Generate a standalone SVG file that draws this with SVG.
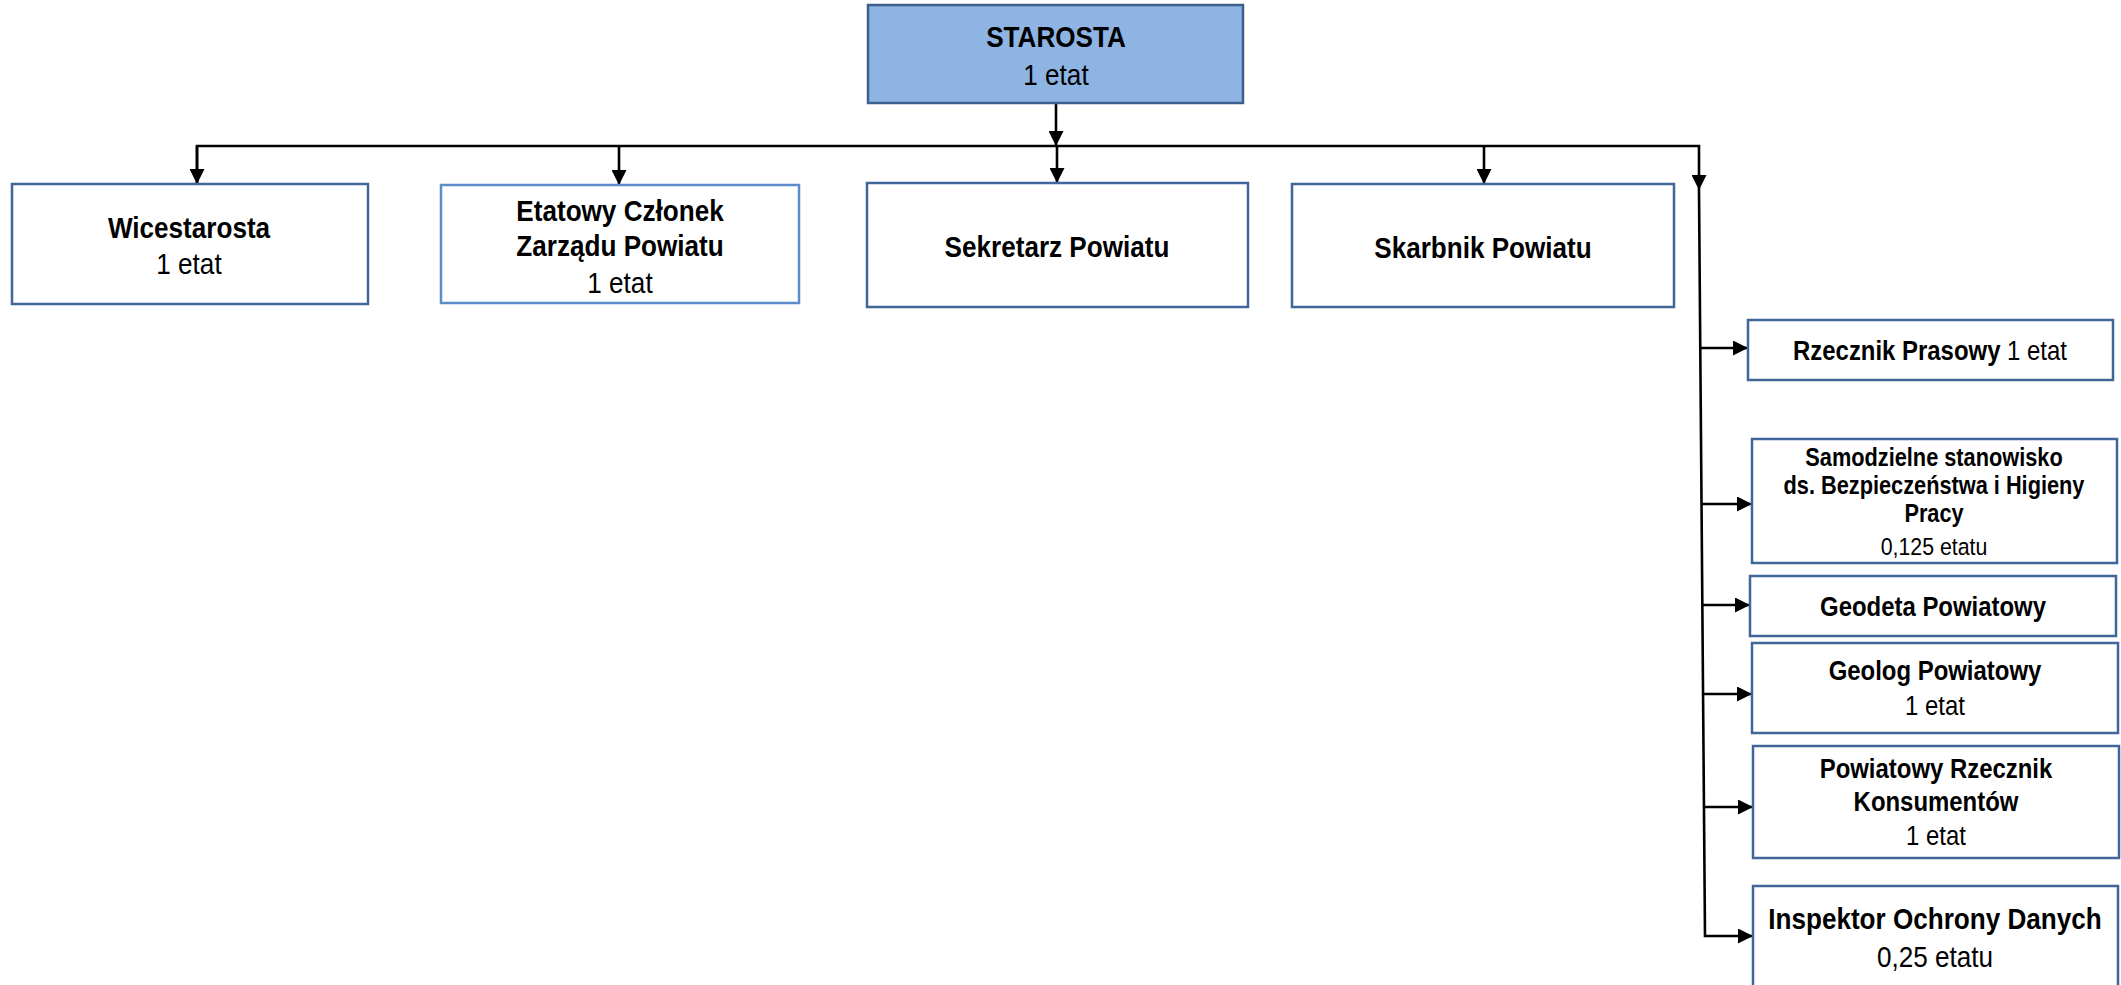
<svg xmlns="http://www.w3.org/2000/svg" width="2121" height="985" viewBox="0 0 2121 985">
  <style>
    .box { fill: #ffffff; stroke: #41669A; stroke-width: 2.5; }
    .boxl { fill: #ffffff; stroke: #5B8CCB; stroke-width: 2.5; }
    .top { fill: #8DB4E2; stroke: #3C5F8C; stroke-width: 2.5; }
    text { font-family: "Liberation Sans", Arial, sans-serif; fill: #000000; text-anchor: middle; }
    .b { font-weight: bold; }
    .conn { fill: none; stroke: #000000; stroke-width: 2.6; }
  </style>
  <defs>
    <marker id="arr" markerUnits="userSpaceOnUse" markerWidth="16" markerHeight="15" refX="15" refY="7.5" orient="auto">
      <path d="M0,0 L15,7.5 L0,15 Z" fill="#000000"/>
    </marker>
  </defs>
  <rect width="2121" height="985" fill="#ffffff"/>

  <g id="connectors">
    <path class="conn" d="M1056,103 L1056,146" marker-end="url(#arr)"/>
    <path class="conn" d="M197,184 L197,146 L1699,146 L1699,190" marker-end="url(#arr)"/>
    <path class="conn" d="M1699,190 L1705,936 L1753,936" marker-end="url(#arr)"/>
    <path class="conn" d="M197,146 L197,184" marker-end="url(#arr)"/>
    <path class="conn" d="M619,146 L619,185" marker-end="url(#arr)"/>
    <path class="conn" d="M1057,146 L1057,183" marker-end="url(#arr)"/>
    <path class="conn" d="M1484,146 L1484,184" marker-end="url(#arr)"/>
    <path class="conn" d="M1701,348 L1748,348" marker-end="url(#arr)"/>
    <path class="conn" d="M1702,504 L1752,504" marker-end="url(#arr)"/>
    <path class="conn" d="M1703,605 L1750,605" marker-end="url(#arr)"/>
    <path class="conn" d="M1703,694 L1752,694" marker-end="url(#arr)"/>
    <path class="conn" d="M1704,807 L1753,807" marker-end="url(#arr)"/>
  </g>

  <g id="starosta">
    <rect class="top" x="868" y="5" width="375" height="98"/>
    <g transform="translate(1056,0) scale(0.87,1)">
      <text class="b" x="0" y="47" font-size="30">STAROSTA</text>
      <text x="0" y="85" font-size="30">1 etat</text>
    </g>
  </g>

  <g id="wicestarosta">
    <rect class="box" x="12" y="184" width="356" height="120"/>
    <g transform="translate(189,0) scale(0.87,1)">
      <text class="b" x="0" y="238" font-size="30">Wicestarosta</text>
      <text x="0" y="274" font-size="30">1 etat</text>
    </g>
  </g>

  <g id="etatowy">
    <rect class="boxl" x="441" y="185" width="358" height="118"/>
    <g transform="translate(620,0) scale(0.87,1)">
      <text class="b" x="0" y="221" font-size="30">Etatowy Członek</text>
      <text class="b" x="0" y="256" font-size="30">Zarządu Powiatu</text>
      <text x="0" y="293" font-size="30">1 etat</text>
    </g>
  </g>

  <g id="sekretarz">
    <rect class="box" x="867" y="183" width="381" height="124"/>
    <g transform="translate(1057,0) scale(0.87,1)">
      <text class="b" x="0" y="257" font-size="30">Sekretarz Powiatu</text>
    </g>
  </g>

  <g id="skarbnik">
    <rect class="box" x="1292" y="184" width="382" height="123"/>
    <g transform="translate(1483,0) scale(0.87,1)">
      <text class="b" x="0" y="258" font-size="30">Skarbnik Powiatu</text>
    </g>
  </g>

  <g id="rzecznik-prasowy">
    <rect class="box" x="1748" y="320" width="365" height="60"/>
    <g transform="translate(1930,0) scale(0.87,1)">
      <text x="0" y="360" font-size="27.5"><tspan class="b">Rzecznik Prasowy</tspan> 1 etat</text>
    </g>
  </g>

  <g id="bhp">
    <rect class="box" x="1752" y="439" width="365" height="124"/>
    <g transform="translate(1934,0) scale(0.87,1)">
      <text class="b" x="0" y="466" font-size="25">Samodzielne stanowisko</text>
      <text class="b" x="0" y="494" font-size="25">ds. Bezpieczeństwa i Higieny</text>
      <text class="b" x="0" y="522" font-size="25">Pracy</text>
      <text x="0" y="555" font-size="24.5">0,125 etatu</text>
    </g>
  </g>

  <g id="geodeta">
    <rect class="box" x="1750" y="576" width="366" height="60"/>
    <g transform="translate(1933,0) scale(0.87,1)">
      <text class="b" x="0" y="616" font-size="27.5">Geodeta Powiatowy</text>
    </g>
  </g>

  <g id="geolog">
    <rect class="box" x="1752" y="643" width="366" height="90"/>
    <g transform="translate(1935,0) scale(0.87,1)">
      <text class="b" x="0" y="680" font-size="27.5">Geolog Powiatowy</text>
      <text x="0" y="715" font-size="27.5">1 etat</text>
    </g>
  </g>

  <g id="rzecznik-konsumentow">
    <rect class="box" x="1753" y="746" width="366" height="112"/>
    <g transform="translate(1936,0) scale(0.87,1)">
      <text class="b" x="0" y="778" font-size="27.5">Powiatowy Rzecznik</text>
      <text class="b" x="0" y="811" font-size="27.5">Konsumentów</text>
      <text x="0" y="845" font-size="27.5">1 etat</text>
    </g>
  </g>

  <g id="iod">
    <rect class="box" x="1753" y="886" width="365" height="120"/>
    <g transform="translate(1935,0) scale(0.87,1)">
      <text class="b" x="0" y="929" font-size="30">Inspektor Ochrony Danych</text>
      <text x="0" y="967" font-size="30">0,25 etatu</text>
    </g>
  </g>
</svg>
